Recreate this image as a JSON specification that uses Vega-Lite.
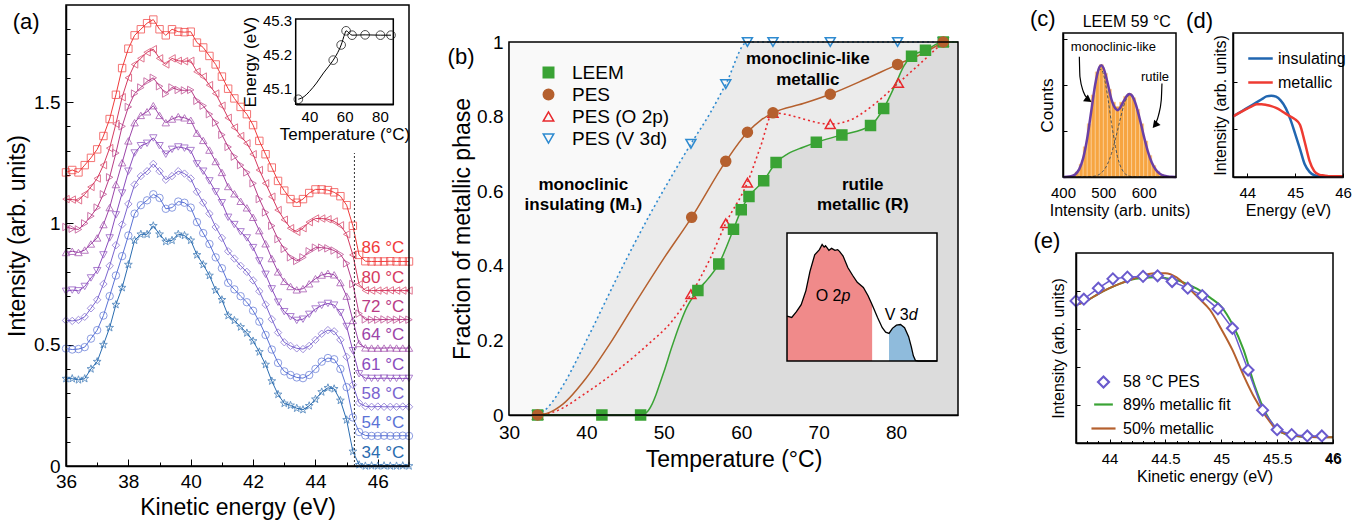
{
"$schema": "https://vega.github.io/schema/vega-lite/v6.json",
"width": 1372, "height": 531,
"autosize": {"type": "none"},
"padding": 0,
"config": {
 "font": "Liberation Sans",
 "view": {"stroke": null},
 "axis": {"grid": false, "domainColor": "black", "domainWidth": 1.5, "tickColor": "black", "tickWidth": 1, "labelColor": "black", "titleColor": "black", "titleFontWeight": "normal", "labelFont": "Liberation Sans", "titleFont": "Liberation Sans", "labelFlush": false, "labelOverlap": false, "labelBound": false},
 "legend": {"labelFont": "Liberation Sans", "labelColor": "black", "padding": 0},
 "text": {"font": "Liberation Sans"}
},
"datasets": {
 "spectra": [
{"E":36,"34 °C":0.36,"54 °C":0.484,"58 °C":0.6,"61 °C":0.72,"64 °C":0.88,"72 °C":0.985,"80 °C":1.1,"86 °C":1.21},
{"E":36.2,"34 °C":0.36,"54 °C":0.48,"58 °C":0.598,"61 °C":0.725,"64 °C":0.885,"72 °C":0.978,"80 °C":1.098,"86 °C":1.22},
{"E":36.4,"34 °C":0.355,"54 °C":0.482,"58 °C":0.602,"61 °C":0.722,"64 °C":0.88,"72 °C":0.975,"80 °C":1.095,"86 °C":1.21},
{"E":36.6,"34 °C":0.36,"54 °C":0.49,"58 °C":0.615,"61 °C":0.74,"64 °C":0.89,"72 °C":1.0,"80 °C":1.12,"86 °C":1.24},
{"E":36.8,"34 °C":0.4,"54 °C":0.525,"58 °C":0.65,"61 °C":0.775,"64 °C":0.915,"72 °C":1.03,"80 °C":1.15,"86 °C":1.27},
{"E":37,"34 °C":0.43,"54 °C":0.56,"58 °C":0.685,"61 °C":0.805,"64 °C":0.94,"72 °C":1.065,"80 °C":1.185,"86 °C":1.305},
{"E":37.2,"34 °C":0.5,"54 °C":0.62,"58 °C":0.75,"61 °C":0.87,"64 °C":0.995,"72 °C":1.12,"80 °C":1.24,"86 °C":1.36},
{"E":37.4,"34 °C":0.57,"54 °C":0.7,"58 °C":0.825,"61 °C":0.94,"64 °C":1.065,"72 °C":1.19,"80 °C":1.31,"86 °C":1.43},
{"E":37.6,"34 °C":0.665,"54 °C":0.785,"58 °C":0.91,"61 °C":1.035,"64 °C":1.16,"72 °C":1.29,"80 °C":1.41,"86 °C":1.53},
{"E":37.8,"34 °C":0.735,"54 °C":0.865,"58 °C":0.995,"61 °C":1.125,"64 °C":1.25,"72 °C":1.4,"80 °C":1.52,"86 °C":1.64},
{"E":38,"34 °C":0.83,"54 °C":0.95,"58 °C":1.08,"61 °C":1.215,"64 °C":1.34,"72 °C":1.48,"80 °C":1.6,"86 °C":1.72},
{"E":38.2,"34 °C":0.93,"54 °C":1.04,"58 °C":1.16,"61 °C":1.29,"64 °C":1.415,"72 °C":1.535,"80 °C":1.655,"86 °C":1.775},
{"E":38.4,"34 °C":0.955,"54 °C":1.075,"58 °C":1.195,"61 °C":1.32,"64 °C":1.445,"72 °C":1.56,"80 °C":1.68,"86 °C":1.8},
{"E":38.6,"34 °C":0.955,"54 °C":1.095,"58 °C":1.215,"61 °C":1.33,"64 °C":1.46,"72 °C":1.585,"80 °C":1.705,"86 °C":1.825},
{"E":38.8,"34 °C":0.99,"54 °C":1.12,"58 °C":1.245,"61 °C":1.352,"64 °C":1.485,"72 °C":1.6,"80 °C":1.718,"86 °C":1.84},
{"E":39,"34 °C":0.955,"54 °C":1.105,"58 °C":1.215,"61 °C":1.32,"64 °C":1.445,"72 °C":1.565,"80 °C":1.68,"86 °C":1.8},
{"E":39.2,"34 °C":0.925,"54 °C":1.06,"58 °C":1.18,"61 °C":1.285,"64 °C":1.415,"72 °C":1.535,"80 °C":1.655,"86 °C":1.775},
{"E":39.4,"34 °C":0.93,"54 °C":1.065,"58 °C":1.195,"61 °C":1.305,"64 °C":1.43,"72 °C":1.56,"80 °C":1.68,"86 °C":1.8},
{"E":39.6,"34 °C":0.955,"54 °C":1.09,"58 °C":1.215,"61 °C":1.315,"64 °C":1.44,"72 °C":1.55,"80 °C":1.67,"86 °C":1.79},
{"E":39.8,"34 °C":0.95,"54 °C":1.085,"58 °C":1.205,"61 °C":1.31,"64 °C":1.435,"72 °C":1.548,"80 °C":1.668,"86 °C":1.788},
{"E":40,"34 °C":0.93,"54 °C":1.065,"58 °C":1.185,"61 °C":1.3,"64 °C":1.425,"72 °C":1.55,"80 °C":1.67,"86 °C":1.79},
{"E":40.2,"34 °C":0.87,"54 °C":1.005,"58 °C":1.13,"61 °C":1.245,"64 °C":1.372,"72 °C":1.505,"80 °C":1.625,"86 °C":1.745},
{"E":40.4,"34 °C":0.83,"54 °C":0.96,"58 °C":1.085,"61 °C":1.215,"64 °C":1.342,"72 °C":1.485,"80 °C":1.605,"86 °C":1.725},
{"E":40.6,"34 °C":0.785,"54 °C":0.915,"58 °C":1.04,"61 °C":1.175,"64 °C":1.302,"72 °C":1.45,"80 °C":1.57,"86 °C":1.69},
{"E":40.8,"34 °C":0.725,"54 °C":0.86,"58 °C":0.985,"61 °C":1.13,"64 °C":1.255,"72 °C":1.415,"80 °C":1.535,"86 °C":1.655},
{"E":41,"34 °C":0.685,"54 °C":0.815,"58 °C":0.94,"61 °C":1.085,"64 °C":1.21,"72 °C":1.365,"80 °C":1.485,"86 °C":1.605},
{"E":41.2,"34 °C":0.62,"54 °C":0.755,"58 °C":0.885,"61 °C":1.025,"64 °C":1.152,"72 °C":1.315,"80 °C":1.435,"86 °C":1.555},
{"E":41.4,"34 °C":0.6,"54 °C":0.728,"58 °C":0.855,"61 °C":0.995,"64 °C":1.122,"72 °C":1.275,"80 °C":1.395,"86 °C":1.515},
{"E":41.6,"34 °C":0.573,"54 °C":0.7,"58 °C":0.825,"61 °C":0.965,"64 °C":1.091,"72 °C":1.24,"80 °C":1.36,"86 °C":1.48},
{"E":41.8,"34 °C":0.548,"54 °C":0.675,"58 °C":0.8,"61 °C":0.94,"64 °C":1.064,"72 °C":1.21,"80 °C":1.33,"86 °C":1.45},
{"E":42,"34 °C":0.515,"54 °C":0.64,"58 °C":0.765,"61 °C":0.9,"64 °C":1.025,"72 °C":1.165,"80 °C":1.285,"86 °C":1.405},
{"E":42.2,"34 °C":0.47,"54 °C":0.595,"58 °C":0.72,"61 °C":0.845,"64 °C":0.97,"72 °C":1.1,"80 °C":1.22,"86 °C":1.34},
{"E":42.4,"34 °C":0.418,"54 °C":0.54,"58 °C":0.665,"61 °C":0.79,"64 °C":0.916,"72 °C":1.045,"80 °C":1.165,"86 °C":1.285},
{"E":42.6,"34 °C":0.35,"54 °C":0.48,"58 °C":0.605,"61 °C":0.73,"64 °C":0.855,"72 °C":0.99,"80 °C":1.11,"86 °C":1.23},
{"E":42.8,"34 °C":0.295,"54 °C":0.425,"58 °C":0.55,"61 °C":0.675,"64 °C":0.8,"72 °C":0.935,"80 °C":1.055,"86 °C":1.175},
{"E":43,"34 °C":0.258,"54 °C":0.39,"58 °C":0.51,"61 °C":0.636,"64 °C":0.761,"72 °C":0.895,"80 °C":1.015,"86 °C":1.135},
{"E":43.2,"34 °C":0.25,"54 °C":0.375,"58 °C":0.495,"61 °C":0.615,"64 °C":0.74,"72 °C":0.86,"80 °C":0.98,"86 °C":1.1},
{"E":43.4,"34 °C":0.238,"54 °C":0.365,"58 °C":0.485,"61 °C":0.6,"64 °C":0.726,"72 °C":0.845,"80 °C":0.965,"86 °C":1.085},
{"E":43.6,"34 °C":0.232,"54 °C":0.362,"58 °C":0.482,"61 °C":0.605,"64 °C":0.731,"72 °C":0.86,"80 °C":0.98,"86 °C":1.1},
{"E":43.8,"34 °C":0.248,"54 °C":0.375,"58 °C":0.495,"61 °C":0.625,"64 °C":0.751,"72 °C":0.885,"80 °C":1.005,"86 °C":1.125},
{"E":44,"34 °C":0.275,"54 °C":0.4,"58 °C":0.52,"61 °C":0.647,"64 °C":0.772,"72 °C":0.9,"80 °C":1.02,"86 °C":1.14},
{"E":44.2,"34 °C":0.305,"54 °C":0.43,"58 °C":0.545,"61 °C":0.662,"64 °C":0.787,"72 °C":0.9,"80 °C":1.02,"86 °C":1.14},
{"E":44.4,"34 °C":0.322,"54 °C":0.445,"58 °C":0.56,"61 °C":0.67,"64 °C":0.794,"72 °C":0.897,"80 °C":1.017,"86 °C":1.137},
{"E":44.6,"34 °C":0.318,"54 °C":0.44,"58 °C":0.555,"61 °C":0.663,"64 °C":0.788,"72 °C":0.888,"80 °C":1.008,"86 °C":1.128},
{"E":44.8,"34 °C":0.27,"54 °C":0.4,"58 °C":0.52,"61 °C":0.632,"64 °C":0.756,"72 °C":0.872,"80 °C":0.992,"86 °C":1.112},
{"E":45,"34 °C":0.19,"54 °C":0.325,"58 °C":0.45,"61 °C":0.575,"64 °C":0.7,"72 °C":0.835,"80 °C":0.955,"86 °C":1.075},
{"E":45.2,"34 °C":0.06,"54 °C":0.2,"58 °C":0.335,"61 °C":0.475,"64 °C":0.6,"72 °C":0.75,"80 °C":0.87,"86 °C":0.99},
{"E":45.4,"34 °C":0.005,"54 °C":0.14,"58 °C":0.26,"61 °C":0.38,"64 °C":0.505,"72 °C":0.628,"80 °C":0.748,"86 °C":0.87},
{"E":45.6,"34 °C":0,"54 °C":0.126,"58 °C":0.246,"61 °C":0.362,"64 °C":0.487,"72 °C":0.604,"80 °C":0.724,"86 °C":0.844},
{"E":45.8,"34 °C":0.001,"54 °C":0.124,"58 °C":0.244,"61 °C":0.361,"64 °C":0.486,"72 °C":0.603,"80 °C":0.723,"86 °C":0.843},
{"E":46,"34 °C":0,"54 °C":0.124,"58 °C":0.245,"61 °C":0.361,"64 °C":0.486,"72 °C":0.603,"80 °C":0.723,"86 °C":0.843},
{"E":46.2,"34 °C":0.001,"54 °C":0.125,"58 °C":0.244,"61 °C":0.362,"64 °C":0.486,"72 °C":0.604,"80 °C":0.723,"86 °C":0.843},
{"E":46.4,"34 °C":0,"54 °C":0.124,"58 °C":0.244,"61 °C":0.361,"64 °C":0.487,"72 °C":0.603,"80 °C":0.724,"86 °C":0.844},
{"E":46.6,"34 °C":0,"54 °C":0.124,"58 °C":0.244,"61 °C":0.361,"64 °C":0.486,"72 °C":0.603,"80 °C":0.723,"86 °C":0.843},
{"E":46.8,"34 °C":0.001,"54 °C":0.125,"58 °C":0.245,"61 °C":0.361,"64 °C":0.486,"72 °C":0.604,"80 °C":0.723,"86 °C":0.843},
{"E":47,"34 °C":0,"54 °C":0.124,"58 °C":0.244,"61 °C":0.361,"64 °C":0.486,"72 °C":0.603,"80 °C":0.723,"86 °C":0.843}
 ],
 "aInset": [{"t":33.7,"e":45.067},{"t":53.5,"e":45.183},{"t":58,"e":45.228},{"t":60.8,"e":45.27},{"t":64.2,"e":45.257},{"t":71.6,"e":45.258},{"t":80.3,"e":45.257},{"t":86.3,"e":45.257}],
 "aInsetCurve": [{"t":33.7,"e":45.067},{"t":37,"e":45.075},{"t":40,"e":45.09},{"t":44,"e":45.115},{"t":48,"e":45.145},{"t":51,"e":45.165},{"t":53.5,"e":45.183},{"t":56,"e":45.205},{"t":58,"e":45.228},{"t":60,"e":45.26},{"t":60.8,"e":45.27},{"t":64.2,"e":45.257},{"t":71.6,"e":45.258},{"t":80.3,"e":45.257},{"t":86.3,"e":45.257}],
 "bCurves": [
{"s":"LEEM","t":33.7,"f":0},{"s":"LEEM","t":42,"f":0},{"s":"LEEM","t":47,"f":0},{"s":"LEEM","t":47.5,"f":0.003},{"s":"LEEM","t":48,"f":0.012},{"s":"LEEM","t":48.5,"f":0.03},{"s":"LEEM","t":49,"f":0.055},{"s":"LEEM","t":49.5,"f":0.085},{"s":"LEEM","t":50,"f":0.115},{"s":"LEEM","t":51,"f":0.18},{"s":"LEEM","t":52,"f":0.24},{"s":"LEEM","t":53,"f":0.29},{"s":"LEEM","t":54.4,"f":0.334},{"s":"LEEM","t":55.7,"f":0.365},{"s":"LEEM","t":57.1,"f":0.405},{"s":"LEEM","t":59,"f":0.498},{"s":"LEEM","t":60,"f":0.55},{"s":"LEEM","t":61,"f":0.586},{"s":"LEEM","t":62.9,"f":0.628},{"s":"LEEM","t":64.5,"f":0.677},{"s":"LEEM","t":66,"f":0.7},{"s":"LEEM","t":68,"f":0.718},{"s":"LEEM","t":69.7,"f":0.731},{"s":"LEEM","t":73,"f":0.751},{"s":"LEEM","t":76.7,"f":0.776},{"s":"LEEM","t":78.4,"f":0.822},{"s":"LEEM","t":80,"f":0.89},{"s":"LEEM","t":81,"f":0.935},{"s":"LEEM","t":82,"f":0.962},{"s":"LEEM","t":83.8,"f":0.978},{"s":"LEEM","t":86.1,"f":1},{"s":"LEEM","t":88,"f":1},
{"s":"PES","t":33.7,"f":0},{"s":"PES","t":35,"f":0.005},{"s":"PES","t":37,"f":0.03},{"s":"PES","t":40,"f":0.1},{"s":"PES","t":43,"f":0.19},{"s":"PES","t":46,"f":0.29},{"s":"PES","t":50,"f":0.42},{"s":"PES","t":53.6,"f":0.53},{"s":"PES","t":58,"f":0.68},{"s":"PES","t":60.8,"f":0.758},{"s":"PES","t":62.5,"f":0.79},{"s":"PES","t":64.1,"f":0.81},{"s":"PES","t":68,"f":0.835},{"s":"PES","t":71.5,"f":0.86},{"s":"PES","t":76,"f":0.9},{"s":"PES","t":80.2,"f":0.94},{"s":"PES","t":83,"f":0.965},{"s":"PES","t":86.1,"f":1},
{"s":"PES (O 2p)","t":33.7,"f":0},{"s":"PES (O 2p)","t":36,"f":0.01},{"s":"PES (O 2p)","t":40,"f":0.06},{"s":"PES (O 2p)","t":44,"f":0.12},{"s":"PES (O 2p)","t":48,"f":0.19},{"s":"PES (O 2p)","t":51,"f":0.25},{"s":"PES (O 2p)","t":53.5,"f":0.324},{"s":"PES (O 2p)","t":56,"f":0.42},{"s":"PES (O 2p)","t":58,"f":0.514},{"s":"PES (O 2p)","t":60.8,"f":0.623},{"s":"PES (O 2p)","t":62.5,"f":0.72},{"s":"PES (O 2p)","t":64.1,"f":0.81},{"s":"PES (O 2p)","t":71.5,"f":0.78},{"s":"PES (O 2p)","t":74,"f":0.79},{"s":"PES (O 2p)","t":77,"f":0.83},{"s":"PES (O 2p)","t":80.3,"f":0.89},{"s":"PES (O 2p)","t":83,"f":0.94},{"s":"PES (O 2p)","t":86.1,"f":1},
{"s":"PES (V 3d)","t":33.7,"f":0},{"s":"PES (V 3d)","t":35,"f":0.02},{"s":"PES (V 3d)","t":37,"f":0.08},{"s":"PES (V 3d)","t":40,"f":0.2},{"s":"PES (V 3d)","t":44,"f":0.37},{"s":"PES (V 3d)","t":48,"f":0.53},{"s":"PES (V 3d)","t":51,"f":0.64},{"s":"PES (V 3d)","t":53.5,"f":0.727},{"s":"PES (V 3d)","t":56,"f":0.81},{"s":"PES (V 3d)","t":58,"f":0.887},{"s":"PES (V 3d)","t":60.8,"f":1},{"s":"PES (V 3d)","t":64.1,"f":1},{"s":"PES (V 3d)","t":71.5,"f":1},{"s":"PES (V 3d)","t":80.2,"f":1},{"s":"PES (V 3d)","t":86.1,"f":1},{"s":"PES (V 3d)","t":88,"f":1}
 ],
 "bMarkers": [
{"s":"PES (V 3d)","t":33.7,"f":0},{"s":"PES (V 3d)","t":53.5,"f":0.727},{"s":"PES (V 3d)","t":58,"f":0.887},{"s":"PES (V 3d)","t":60.8,"f":1},{"s":"PES (V 3d)","t":64.1,"f":1},{"s":"PES (V 3d)","t":71.5,"f":1},{"s":"PES (V 3d)","t":80.2,"f":1},{"s":"PES (V 3d)","t":86.1,"f":1},
{"s":"PES (O 2p)","t":33.7,"f":0},{"s":"PES (O 2p)","t":53.5,"f":0.324},{"s":"PES (O 2p)","t":58,"f":0.514},{"s":"PES (O 2p)","t":60.8,"f":0.623},{"s":"PES (O 2p)","t":64.1,"f":0.81},{"s":"PES (O 2p)","t":71.5,"f":0.78},{"s":"PES (O 2p)","t":80.3,"f":0.89},{"s":"PES (O 2p)","t":86.1,"f":1},
{"s":"LEEM","t":33.7,"f":0},{"s":"LEEM","t":42,"f":0},{"s":"LEEM","t":47,"f":0},{"s":"LEEM","t":54.4,"f":0.334},{"s":"LEEM","t":57.1,"f":0.405},{"s":"LEEM","t":59,"f":0.498},{"s":"LEEM","t":60,"f":0.55},{"s":"LEEM","t":61,"f":0.586},{"s":"LEEM","t":62.9,"f":0.628},{"s":"LEEM","t":64.5,"f":0.677},{"s":"LEEM","t":69.7,"f":0.731},{"s":"LEEM","t":73,"f":0.751},{"s":"LEEM","t":76.7,"f":0.776},{"s":"LEEM","t":78.4,"f":0.822},{"s":"LEEM","t":82,"f":0.962},{"s":"LEEM","t":83.8,"f":0.978},{"s":"LEEM","t":86.1,"f":1},
{"s":"PES","t":33.7,"f":0},{"s":"PES","t":53.6,"f":0.53},{"s":"PES","t":58,"f":0.68},{"s":"PES","t":60.8,"f":0.758},{"s":"PES","t":64.1,"f":0.81},{"s":"PES","t":71.5,"f":0.86},{"s":"PES","t":80.2,"f":0.94},{"s":"PES","t":86.1,"f":1}
 ],
 "bInset": [{"e":36,"v":0.35},{"e":36.35,"v":0.34},{"e":36.7,"v":0.385},{"e":37.05,"v":0.44},{"e":37.4,"v":0.55},{"e":37.7,"v":0.7},{"e":38.05,"v":0.83},{"e":38.4,"v":0.87},{"e":38.6,"v":0.91},{"e":38.75,"v":0.89},{"e":38.85,"v":0.9},{"e":39,"v":0.88},{"e":39.1,"v":0.865},{"e":39.3,"v":0.88},{"e":39.55,"v":0.865},{"e":39.75,"v":0.87},{"e":39.9,"v":0.855},{"e":40.15,"v":0.82},{"e":40.5,"v":0.73},{"e":40.85,"v":0.67},{"e":41.2,"v":0.615},{"e":41.65,"v":0.575},{"e":42,"v":0.51},{"e":42.3,"v":0.44},{"e":42.7,"v":0.34},{"e":43.05,"v":0.26},{"e":43.3,"v":0.225},{"e":43.55,"v":0.215},{"e":43.8,"v":0.255},{"e":44.1,"v":0.28},{"e":44.4,"v":0.285},{"e":44.7,"v":0.26},{"e":45,"v":0.19},{"e":45.2,"v":0.11},{"e":45.35,"v":0.04},{"e":45.5,"v":0.005},{"e":45.7,"v":0},{"e":46.2,"v":0},{"e":47.1,"v":0}],
 "cBars": [{"lo":400,"hi":410,"n":0.003},{"lo":410,"hi":420,"n":0.006},{"lo":420,"hi":430,"n":0.012},{"lo":430,"hi":440,"n":0.035},{"lo":440,"hi":450,"n":0.09},{"lo":450,"hi":460,"n":0.21},{"lo":460,"hi":470,"n":0.37},{"lo":470,"hi":480,"n":0.57},{"lo":480,"hi":490,"n":0.73},{"lo":490,"hi":500,"n":0.78},{"lo":500,"hi":510,"n":0.72},{"lo":510,"hi":520,"n":0.61},{"lo":520,"hi":530,"n":0.52},{"lo":530,"hi":540,"n":0.49},{"lo":540,"hi":550,"n":0.52},{"lo":550,"hi":560,"n":0.56},{"lo":560,"hi":570,"n":0.58},{"lo":570,"hi":580,"n":0.55},{"lo":580,"hi":590,"n":0.47},{"lo":590,"hi":600,"n":0.37},{"lo":600,"hi":610,"n":0.25},{"lo":610,"hi":620,"n":0.15},{"lo":620,"hi":630,"n":0.08},{"lo":630,"hi":640,"n":0.04},{"lo":640,"hi":650,"n":0.018},{"lo":650,"hi":660,"n":0.008},{"lo":660,"hi":670,"n":0.004},{"lo":670,"hi":680,"n":0.002}],
 "cFit": [{"x":400,"g1":0.0002,"g2":0,"fit":0.0002},{"x":410,"g1":0.0011,"g2":0,"fit":0.0011},{"x":420,"g1":0.0049,"g2":0,"fit":0.0049},{"x":430,"g1":0.0176,"g2":0,"fit":0.0176},{"x":440,"g1":0.0527,"g2":0.0001,"fit":0.0528},{"x":450,"g1":0.1306,"g2":0.0002,"fit":0.1308},{"x":460,"g1":0.268,"g2":0.0007,"fit":0.269},{"x":470,"g1":0.455,"g2":0.0024,"fit":0.457},{"x":480,"g1":0.639,"g2":0.007,"fit":0.646},{"x":490,"g1":0.744,"g2":0.018,"fit":0.762},{"x":495,"g1":0.747,"g2":0.0285,"fit":0.776},{"x":500,"g1":0.716,"g2":0.043,"fit":0.759},{"x":510,"g1":0.571,"g2":0.088,"fit":0.659},{"x":520,"g1":0.377,"g2":0.162,"fit":0.539},{"x":530,"g1":0.211,"g2":0.264,"fit":0.475},{"x":535,"g1":0.142,"g2":0.322,"fit":0.464},{"x":540,"g1":0.093,"g2":0.381,"fit":0.474},{"x":550,"g1":0.035,"g2":0.49,"fit":0.525},{"x":560,"g1":0.0108,"g2":0.558,"fit":0.569},{"x":565,"g1":0.0056,"g2":0.57,"fit":0.576},{"x":570,"g1":0.0028,"g2":0.565,"fit":0.568},{"x":580,"g1":0.0006,"g2":0.507,"fit":0.508},{"x":590,"g1":0.0001,"g2":0.405,"fit":0.405},{"x":600,"g1":0,"g2":0.287,"fit":0.287},{"x":610,"g1":0,"g2":0.18,"fit":0.18},{"x":620,"g1":0,"g2":0.1007,"fit":0.1007},{"x":630,"g1":0,"g2":0.05,"fit":0.05},{"x":640,"g1":0,"g2":0.022,"fit":0.022},{"x":650,"g1":0,"g2":0.0086,"fit":0.0086},{"x":660,"g1":0,"g2":0.003,"fit":0.003},{"x":670,"g1":0,"g2":0.0009,"fit":0.0009},{"x":680,"g1":0,"g2":0.0003,"fit":0.0003}],
 "cArrows": [{"a":1,"x":440.5,"y":0.835},{"a":1,"x":442,"y":0.696},{"a":1,"x":450.5,"y":0.592},{"a":1,"x":460,"y":0.548},{"a":2,"x":645.2,"y":0.65},{"a":2,"x":643.5,"y":0.535},{"a":2,"x":636.8,"y":0.43},{"a":2,"x":631,"y":0.38}],
 "dLines": [
{"s":"insulating","e":43.7,"v":0.42},{"s":"insulating","e":43.8,"v":0.44},{"s":"insulating","e":43.9,"v":0.46},{"s":"insulating","e":44,"v":0.48},{"s":"insulating","e":44.1,"v":0.5},{"s":"insulating","e":44.2,"v":0.52},{"s":"insulating","e":44.3,"v":0.54},{"s":"insulating","e":44.4,"v":0.56},{"s":"insulating","e":44.5,"v":0.565},{"s":"insulating","e":44.6,"v":0.558},{"s":"insulating","e":44.7,"v":0.53},{"s":"insulating","e":44.8,"v":0.48},{"s":"insulating","e":44.9,"v":0.4},{"s":"insulating","e":45,"v":0.3},{"s":"insulating","e":45.1,"v":0.196},{"s":"insulating","e":45.2,"v":0.088},{"s":"insulating","e":45.3,"v":0.036},{"s":"insulating","e":45.4,"v":0.012},{"s":"insulating","e":45.5,"v":0.005},{"s":"insulating","e":45.6,"v":0.003},{"s":"insulating","e":45.8,"v":0.003},{"s":"insulating","e":46,"v":0.003},
{"s":"metallic","e":43.7,"v":0.42},{"s":"metallic","e":43.8,"v":0.44},{"s":"metallic","e":43.9,"v":0.458},{"s":"metallic","e":44,"v":0.475},{"s":"metallic","e":44.1,"v":0.492},{"s":"metallic","e":44.2,"v":0.505},{"s":"metallic","e":44.3,"v":0.505},{"s":"metallic","e":44.4,"v":0.5},{"s":"metallic","e":44.5,"v":0.492},{"s":"metallic","e":44.6,"v":0.48},{"s":"metallic","e":44.7,"v":0.462},{"s":"metallic","e":44.8,"v":0.44},{"s":"metallic","e":44.9,"v":0.42},{"s":"metallic","e":45,"v":0.4},{"s":"metallic","e":45.1,"v":0.363},{"s":"metallic","e":45.2,"v":0.243},{"s":"metallic","e":45.3,"v":0.112},{"s":"metallic","e":45.4,"v":0.04},{"s":"metallic","e":45.5,"v":0.017},{"s":"metallic","e":45.6,"v":0.01},{"s":"metallic","e":45.7,"v":0.005},{"s":"metallic","e":46,"v":0.005}
 ],
 "eLines": [
{"s":"89% metallic fit","e":43.7,"v":0.727},{"s":"89% metallic fit","e":43.8,"v":0.75},{"s":"89% metallic fit","e":43.9,"v":0.785},{"s":"89% metallic fit","e":44,"v":0.815},{"s":"89% metallic fit","e":44.1,"v":0.84},{"s":"89% metallic fit","e":44.2,"v":0.86},{"s":"89% metallic fit","e":44.3,"v":0.868},{"s":"89% metallic fit","e":44.4,"v":0.872},{"s":"89% metallic fit","e":44.5,"v":0.868},{"s":"89% metallic fit","e":44.6,"v":0.858},{"s":"89% metallic fit","e":44.7,"v":0.835},{"s":"89% metallic fit","e":44.8,"v":0.806},{"s":"89% metallic fit","e":44.9,"v":0.765},{"s":"89% metallic fit","e":45,"v":0.718},{"s":"89% metallic fit","e":45.1,"v":0.625},{"s":"89% metallic fit","e":45.2,"v":0.49},{"s":"89% metallic fit","e":45.3,"v":0.3},{"s":"89% metallic fit","e":45.4,"v":0.155},{"s":"89% metallic fit","e":45.5,"v":0.072},{"s":"89% metallic fit","e":45.6,"v":0.042},{"s":"89% metallic fit","e":45.7,"v":0.034},{"s":"89% metallic fit","e":45.8,"v":0.031},{"s":"89% metallic fit","e":46,"v":0.03},
{"s":"50% metallic","e":43.7,"v":0.727},{"s":"50% metallic","e":43.8,"v":0.75},{"s":"50% metallic","e":43.9,"v":0.785},{"s":"50% metallic","e":44,"v":0.815},{"s":"50% metallic","e":44.1,"v":0.84},{"s":"50% metallic","e":44.2,"v":0.862},{"s":"50% metallic","e":44.3,"v":0.882},{"s":"50% metallic","e":44.4,"v":0.894},{"s":"50% metallic","e":44.5,"v":0.894},{"s":"50% metallic","e":44.6,"v":0.872},{"s":"50% metallic","e":44.7,"v":0.82},{"s":"50% metallic","e":44.8,"v":0.762},{"s":"50% metallic","e":44.9,"v":0.7},{"s":"50% metallic","e":45,"v":0.6},{"s":"50% metallic","e":45.1,"v":0.49},{"s":"50% metallic","e":45.2,"v":0.355},{"s":"50% metallic","e":45.3,"v":0.235},{"s":"50% metallic","e":45.4,"v":0.14},{"s":"50% metallic","e":45.5,"v":0.068},{"s":"50% metallic","e":45.6,"v":0.045},{"s":"50% metallic","e":45.7,"v":0.036},{"s":"50% metallic","e":45.8,"v":0.032},{"s":"50% metallic","e":46,"v":0.03}
 ],
 "ePoints": [{"s":"58 °C PES","e":43.7,"v":0.748},{"s":"58 °C PES","e":43.77,"v":0.757},{"s":"58 °C PES","e":43.9,"v":0.815},{"s":"58 °C PES","e":44.03,"v":0.864},{"s":"58 °C PES","e":44.16,"v":0.873},{"s":"58 °C PES","e":44.3,"v":0.877},{"s":"58 °C PES","e":44.43,"v":0.88},{"s":"58 °C PES","e":44.56,"v":0.85},{"s":"58 °C PES","e":44.7,"v":0.815},{"s":"58 °C PES","e":44.83,"v":0.776},{"s":"58 °C PES","e":44.97,"v":0.706},{"s":"58 °C PES","e":45.1,"v":0.604},{"s":"58 °C PES","e":45.24,"v":0.384},{"s":"58 °C PES","e":45.37,"v":0.173},{"s":"58 °C PES","e":45.5,"v":0.07},{"s":"58 °C PES","e":45.63,"v":0.044},{"s":"58 °C PES","e":45.77,"v":0.037},{"s":"58 °C PES","e":45.9,"v":0.037}]
},
"layer": [
 {"layer": [
  {"data": {"name": "spectra"},
   "transform": [{"fold": ["34 °C","54 °C","58 °C","61 °C","64 °C","72 °C","80 °C","86 °C"], "as": ["T","I"]}],
   "layer": [
    {"mark": {"type": "line", "strokeWidth": 1},
     "encoding": {
      "x": {"field": "E", "type": "quantitative", "scale": {"domain": [36, 47], "range": [66, 409], "nice": false},
            "axis": {"orient": "bottom", "offset": -65, "values": [36,38,40,42,44,46], "format": "d", "title": "Kinetic energy (eV)", "titleFontSize": 23, "labelFontSize": 19, "tickSize": -7, "labelPadding": 13, "titlePadding": 5}},
      "y": {"field": "I", "type": "quantitative", "scale": {"domain": [0, 1.9], "range": [466, 5], "nice": false},
            "axis": {"orient": "left", "offset": -66, "values": [0, 0.5, 1, 1.5], "format": "~g", "title": "Intensity (arb. units)", "titleFontSize": 23, "labelFontSize": 19, "tickSize": -7, "labelPadding": 13, "titlePadding": 4}},
      "color": {"field": "T", "type": "nominal", "scale": {"domain": ["34 °C","54 °C","58 °C","61 °C","64 °C","72 °C","80 °C","86 °C"], "range": ["#2a6cb0","#5b73d6","#7a64cf","#8a4cbd","#9c44a8","#b83c86","#d63a60","#f03a3a"]}, "legend": null}
     }},
    {"mark": {"type": "point", "filled": false, "size": 55, "strokeWidth": 1},
     "encoding": {
      "x": {"field": "E", "type": "quantitative"},
      "y": {"field": "I", "type": "quantitative"},
      "color": {"field": "T", "type": "nominal", "legend": null},
      "shape": {"field": "T", "type": "nominal", "scale": {"domain": ["34 °C","54 °C","58 °C","61 °C","64 °C","72 °C","80 °C","86 °C"], "range": ["M0,-1.1L0.26,-0.36L1.05,-0.34L0.42,0.13L0.65,0.9L0,0.44L-0.65,0.9L-0.42,0.13L-1.05,-0.34L-0.26,-0.36Z","circle","diamond","triangle-down","triangle-up","triangle-right","triangle-left","square"]}, "legend": null}
     }},
    {"transform": [{"filter": "datum.E === 47"}],
     "mark": {"type": "text", "align": "right", "baseline": "middle", "dy": -13, "fontSize": 17},
     "encoding": {
      "x": {"datum": 46.85},
      "y": {"field": "I", "type": "quantitative"},
      "text": {"field": "T"},
      "color": {"field": "T", "type": "nominal", "legend": null}
     }}
   ]},
  {"data": {"values": [{}]}, "mark": {"type": "rule", "strokeDash": [2, 2], "color": "#333333", "strokeWidth": 1},
   "encoding": {"x": {"datum": 45.25}, "y": {"datum": 0}, "y2": {"datum": 1.29}}},
  {"data": {"values": [{}]}, "mark": {"type": "text", "fontSize": 22, "align": "center", "baseline": "middle"},
   "encoding": {"x": {"datum": 34.72}, "y": {"datum": 1.83}, "text": {"value": "(a)"}}},
  {"data": {"values": [{}]}, "mark": {"type": "rect", "fill": "transparent", "stroke": "black", "strokeWidth": 1.5},
   "encoding": {"x": {"datum": 36}, "x2": {"datum": 47}, "y": {"datum": 0}, "y2": {"datum": 1.9}}}
 ]},
 {"data": {"values": [{}]}, "mark": {"type": "point", "opacity": 0},
  "encoding": {
   "x": {"datum": 36, "type": "quantitative", "scale": {"domain": [36, 47], "range": [66, 409], "nice": false},
         "axis": {"orient": "bottom", "offset": -65, "values": [37, 39, 41, 43, 45], "labels": false, "domain": false, "title": null, "tickSize": -4}},
   "y": {"datum": 0, "type": "quantitative", "scale": {"domain": [0, 1.9], "range": [466, 5], "nice": false},
         "axis": {"orient": "left", "offset": -66, "values": [0.1,0.2,0.3,0.4,0.6,0.7,0.8,0.9,1.1,1.2,1.3,1.4,1.6,1.7,1.8], "labels": false, "domain": false, "title": null, "tickSize": -4}}
  }},
 {"layer": [
  {"data": {"values": [{}]}, "mark": {"type": "rect", "fill": "white", "stroke": "black", "strokeWidth": 1.5},
   "encoding": {
    "x": {"datum": 32.2, "type": "quantitative", "scale": {"domain": [32.2, 87.6], "range": [295.7, 393.3], "nice": false},
          "axis": {"orient": "bottom", "offset": -426.7, "values": [40, 60, 80], "title": "Temperature (°C)", "titleFontSize": 17, "labelFontSize": 15, "tickSize": -4, "labelPadding": 9, "titlePadding": 2}},
    "x2": {"datum": 87.6},
    "y": {"datum": 45.052, "type": "quantitative", "scale": {"domain": [45.052, 45.305], "range": [104.3, 19], "nice": false},
          "axis": {"orient": "left", "offset": -295.7, "values": [45.1, 45.2, 45.3], "format": "~g", "title": "Energy (eV)", "titleFontSize": 17, "labelFontSize": 15, "tickSize": -4, "labelPadding": 8, "titlePadding": 3}},
    "y2": {"datum": 45.305}
   }},
  {"data": {"name": "aInsetCurve"}, "mark": {"type": "line", "color": "black", "strokeWidth": 1, "interpolate": "monotone"},
   "encoding": {"x": {"field": "t", "type": "quantitative"}, "y": {"field": "e", "type": "quantitative"}}},
  {"data": {"name": "aInset"}, "mark": {"type": "point", "filled": false, "color": "black", "size": 75, "strokeWidth": 1},
   "encoding": {"x": {"field": "t", "type": "quantitative"}, "y": {"field": "e", "type": "quantitative"}}}
 ]},
 {"layer": [
  {"data": {"values": [{}]}, "mark": {"type": "rect", "fill": "#f9f9f9"},
   "encoding": {
    "x": {"datum": 30, "type": "quantitative", "scale": {"domain": [30, 88], "range": [509, 958], "nice": false},
          "axis": {"orient": "bottom", "offset": -116, "values": [30, 40, 50, 60, 70, 80], "title": "Temperature (°C)", "titleFontSize": 23, "labelFontSize": 19, "tickSize": -7, "labelPadding": 15, "titlePadding": 6}},
    "x2": {"datum": 88},
    "y": {"datum": 0, "type": "quantitative", "scale": {"domain": [0, 1], "range": [415, 42], "nice": false},
          "axis": {"orient": "left", "offset": -509, "values": [0, 0.2, 0.4, 0.6, 0.8, 1], "format": "~g", "title": "Fraction of metallic phase", "titleFontSize": 23, "labelFontSize": 19, "tickSize": -7, "labelPadding": 13, "titlePadding": 2}},
    "y2": {"datum": 1}
   }},
  {"data": {"name": "bCurves"}, "transform": [{"filter": "datum.s === 'PES (V 3d)'"}],
   "mark": {"type": "area", "interpolate": "monotone", "color": "#ebebeb"},
   "encoding": {"x": {"field": "t", "type": "quantitative"}, "y": {"field": "f", "type": "quantitative"}}},
  {"data": {"name": "bCurves"}, "transform": [{"filter": "datum.s === 'LEEM'"}],
   "mark": {"type": "area", "interpolate": "monotone", "color": "#dcdcdc"},
   "encoding": {"x": {"field": "t", "type": "quantitative"}, "y": {"field": "f", "type": "quantitative"}}},
  {"data": {"name": "bCurves"}, "transform": [{"filter": "datum.s === 'PES (V 3d)'"}],
   "mark": {"type": "line", "interpolate": "monotone", "color": "#2d8ad0", "strokeWidth": 1.6, "strokeDash": [2, 3]},
   "encoding": {"x": {"field": "t", "type": "quantitative"}, "y": {"field": "f", "type": "quantitative"}}},
  {"data": {"name": "bCurves"}, "transform": [{"filter": "datum.s === 'PES (O 2p)'"}],
   "mark": {"type": "line", "interpolate": "monotone", "color": "#e8282d", "strokeWidth": 1.6, "strokeDash": [2, 3]},
   "encoding": {"x": {"field": "t", "type": "quantitative"}, "y": {"field": "f", "type": "quantitative"}}},
  {"data": {"name": "bCurves"}, "transform": [{"filter": "datum.s === 'LEEM'"}],
   "mark": {"type": "line", "interpolate": "monotone", "color": "#3aa335", "strokeWidth": 1.5},
   "encoding": {"x": {"field": "t", "type": "quantitative"}, "y": {"field": "f", "type": "quantitative"}}},
  {"data": {"name": "bCurves"}, "transform": [{"filter": "datum.s === 'PES'"}],
   "mark": {"type": "line", "interpolate": "monotone", "color": "#b5602e", "strokeWidth": 1.5},
   "encoding": {"x": {"field": "t", "type": "quantitative"}, "y": {"field": "f", "type": "quantitative"}}},
  {"data": {"name": "bMarkers"},
   "mark": {"type": "point", "filled": true, "strokeWidth": 1.5, "opacity": 1, "size": 100},
   "encoding": {
    "x": {"field": "t", "type": "quantitative"},
    "y": {"field": "f", "type": "quantitative"},
    "shape": {"field": "s", "type": "nominal", "scale": {"domain": ["LEEM","PES","PES (O 2p)","PES (V 3d)"], "range": ["square","circle","triangle-up","triangle-down"]},
              "legend": {"orient": "none", "legendX": 539, "legendY": 63, "title": null, "labelFontSize": 19, "symbolSize": 110, "symbolStrokeWidth": 1.5, "labelOffset": 14, "rowPadding": 2}},
    "fill": {"field": "s", "type": "nominal", "scale": {"domain": ["LEEM","PES","PES (O 2p)","PES (V 3d)"], "range": ["#3aa335","#b5602e","transparent","transparent"]},
              "legend": {"orient": "none", "legendX": 539, "legendY": 63, "title": null, "labelFontSize": 19, "symbolSize": 110, "symbolStrokeWidth": 1.5, "labelOffset": 14, "rowPadding": 2}},
    "stroke": {"field": "s", "type": "nominal", "scale": {"domain": ["LEEM","PES","PES (O 2p)","PES (V 3d)"], "range": ["#3aa335","#b5602e","#e8282d","#2d8ad0"]},
              "legend": {"orient": "none", "legendX": 539, "legendY": 63, "title": null, "labelFontSize": 19, "symbolSize": 110, "symbolStrokeWidth": 1.5, "labelOffset": 14, "rowPadding": 2}}
   }},
  {"data": {"values": [{}]}, "mark": {"type": "text", "fontSize": 17, "fontWeight": "bold", "align": "center", "baseline": "middle"},
   "encoding": {"x": {"datum": 68.6}, "y": {"datum": 0.954}, "text": {"value": "monoclinic-like"}}},
  {"data": {"values": [{}]}, "mark": {"type": "text", "fontSize": 17, "fontWeight": "bold", "align": "center", "baseline": "middle"},
   "encoding": {"x": {"datum": 68.6}, "y": {"datum": 0.898}, "text": {"value": "metallic"}}},
  {"data": {"values": [{}]}, "mark": {"type": "text", "fontSize": 17, "fontWeight": "bold", "align": "center", "baseline": "middle"},
   "encoding": {"x": {"datum": 39.6}, "y": {"datum": 0.617}, "text": {"value": "monoclinic"}}},
  {"data": {"values": [{}]}, "mark": {"type": "text", "fontSize": 17, "fontWeight": "bold", "align": "center", "baseline": "middle"},
   "encoding": {"x": {"datum": 39.6}, "y": {"datum": 0.563}, "text": {"value": "insulating (M₁)"}}},
  {"data": {"values": [{}]}, "mark": {"type": "text", "fontSize": 17, "fontWeight": "bold", "align": "center", "baseline": "middle"},
   "encoding": {"x": {"datum": 75.7}, "y": {"datum": 0.617}, "text": {"value": "rutile"}}},
  {"data": {"values": [{}]}, "mark": {"type": "text", "fontSize": 17, "fontWeight": "bold", "align": "center", "baseline": "middle"},
   "encoding": {"x": {"datum": 75.7}, "y": {"datum": 0.563}, "text": {"value": "metallic (R)"}}},
  {"data": {"values": [{}]}, "mark": {"type": "text", "fontSize": 22, "align": "center", "baseline": "middle"},
   "encoding": {"x": {"datum": 23.8}, "y": {"datum": 0.96}, "text": {"value": "(b)"}}},
  {"data": {"values": [{}]}, "mark": {"type": "rect", "fill": "transparent", "stroke": "black", "strokeWidth": 1.5},
   "encoding": {"x": {"datum": 30}, "x2": {"datum": 88}, "y": {"datum": 0}, "y2": {"datum": 1}}}
 ]},
 {"data": {"values": [{}]}, "mark": {"type": "point", "opacity": 0},
  "encoding": {
   "x": {"datum": 30, "type": "quantitative", "scale": {"domain": [30, 88], "range": [509, 958], "nice": false},
         "axis": {"orient": "bottom", "offset": -116, "values": [32,34,36,38,42,44,46,48,52,54,56,58,62,64,66,68,72,74,76,78,82,84,86], "labels": false, "domain": false, "title": null, "tickSize": -4}},
   "y": {"datum": 0, "type": "quantitative", "scale": {"domain": [0, 1], "range": [415, 42], "nice": false},
         "axis": {"orient": "left", "offset": -509, "values": [0.1, 0.3, 0.5, 0.7, 0.9], "labels": false, "domain": false, "title": null, "tickSize": -4}}
  }},
 {"layer": [
  {"data": {"values": [{}]}, "mark": {"type": "rect", "fill": "white"},
   "encoding": {
    "x": {"datum": 36, "type": "quantitative", "scale": {"domain": [36, 47.1], "range": [787, 937], "nice": false},
          "axis": {"orient": "bottom", "offset": -170, "values": [38, 40, 42, 44, 46], "title": "Energy (eV)", "titleFontSize": 18, "labelFontSize": 16, "tickSize": -4, "labelPadding": 10, "titlePadding": 2}},
    "x2": {"datum": 47.1},
    "y": {"datum": 0, "type": "quantitative", "scale": {"domain": [0, 1], "range": [361, 233], "nice": false},
          "axis": {"orient": "left", "offset": -787, "values": [0.2, 0.4, 0.6, 0.8], "labels": false, "title": null, "tickSize": -4}},
    "y2": {"datum": 1}
   }},
  {"data": {"name": "bInset"}, "transform": [{"filter": "datum.e <= 42.3"}],
   "mark": {"type": "area", "color": "#f08a8a"},
   "encoding": {"x": {"field": "e", "type": "quantitative"}, "y": {"field": "v", "type": "quantitative"}}},
  {"data": {"name": "bInset"}, "transform": [{"filter": "datum.e >= 43.55 && datum.e <= 45.5"}],
   "mark": {"type": "area", "color": "#8fbbdc"},
   "encoding": {"x": {"field": "e", "type": "quantitative"}, "y": {"field": "v", "type": "quantitative"}}},
  {"data": {"name": "bInset"}, "mark": {"type": "line", "color": "black", "strokeWidth": 1.3},
   "encoding": {"x": {"field": "e", "type": "quantitative"}, "y": {"field": "v", "type": "quantitative"}}},
  {"data": {"values": [{}]}, "mark": {"type": "text", "fontSize": 16, "align": "right", "baseline": "middle"},
   "encoding": {"x": {"datum": 40.03}, "y": {"datum": 0.51}, "text": {"value": "O 2"}}},
  {"data": {"values": [{}]}, "mark": {"type": "text", "fontSize": 16, "fontStyle": "italic", "align": "left", "baseline": "middle"},
   "encoding": {"x": {"datum": 40.03}, "y": {"datum": 0.51}, "text": {"value": "p"}}},
  {"data": {"values": [{}]}, "mark": {"type": "text", "fontSize": 16, "align": "right", "baseline": "middle"},
   "encoding": {"x": {"datum": 45.01}, "y": {"datum": 0.36}, "text": {"value": "V 3"}}},
  {"data": {"values": [{}]}, "mark": {"type": "text", "fontSize": 16, "fontStyle": "italic", "align": "left", "baseline": "middle"},
   "encoding": {"x": {"datum": 45.01}, "y": {"datum": 0.36}, "text": {"value": "d"}}},
  {"data": {"values": [{}]}, "mark": {"type": "rect", "fill": "transparent", "stroke": "black", "strokeWidth": 1.5},
   "encoding": {"x": {"datum": 36}, "x2": {"datum": 47.1}, "y": {"datum": 0}, "y2": {"datum": 1}}}
 ]},
 {"layer": [
  {"data": {"name": "cBars"}, "mark": {"type": "rect", "color": "#f7a541", "stroke": "#fbd3a0", "strokeWidth": 0.6},
   "encoding": {
    "x": {"field": "lo", "type": "quantitative", "scale": {"domain": [400, 680], "range": [1063, 1176], "nice": false},
          "axis": {"orient": "bottom", "offset": -354, "values": [400, 500, 600], "title": "Intensity (arb. units)", "titleFontSize": 16, "labelFontSize": 15, "tickSize": -4, "labelPadding": 12, "titlePadding": 2}},
    "x2": {"field": "hi"},
    "y": {"field": "n", "type": "quantitative", "scale": {"domain": [0, 1], "range": [177, 33], "nice": false},
          "axis": {"orient": "left", "offset": -1063, "values": [0.32, 0.64, 0.96], "labels": false, "title": "Counts", "titleFontSize": 17, "tickSize": -4, "titlePadding": 6}},
    "y2": {"datum": 0}
   }},
  {"data": {"name": "cFit"}, "mark": {"type": "line", "color": "#555555", "strokeWidth": 1, "strokeDash": [3, 2], "interpolate": "monotone"},
   "encoding": {"x": {"field": "x", "type": "quantitative"}, "y": {"field": "g1", "type": "quantitative"}}},
  {"data": {"name": "cFit"}, "mark": {"type": "line", "color": "#555555", "strokeWidth": 1, "strokeDash": [3, 2], "interpolate": "monotone"},
   "encoding": {"x": {"field": "x", "type": "quantitative"}, "y": {"field": "g2", "type": "quantitative"}}},
  {"data": {"name": "cFit"}, "mark": {"type": "line", "color": "#6a3fa5", "strokeWidth": 2.5, "interpolate": "monotone"},
   "encoding": {"x": {"field": "x", "type": "quantitative"}, "y": {"field": "fit", "type": "quantitative"}}},
  {"data": {"name": "cArrows"}, "mark": {"type": "line", "color": "black", "strokeWidth": 1.2, "interpolate": "monotone"},
   "encoding": {"x": {"field": "x", "type": "quantitative"}, "y": {"field": "y", "type": "quantitative"}, "detail": {"field": "a"}}},
  {"data": {"values": [{}]}, "mark": {"type": "point", "shape": "triangle-up", "filled": true, "color": "black", "size": 70, "angle": 125, "opacity": 1},
   "encoding": {"x": {"datum": 463}, "y": {"datum": 0.535}}},
  {"data": {"values": [{}]}, "mark": {"type": "point", "shape": "triangle-up", "filled": true, "color": "black", "size": 70, "angle": 220, "opacity": 1},
   "encoding": {"x": {"datum": 628}, "y": {"datum": 0.36}}},
  {"data": {"values": [{}]}, "mark": {"type": "text", "fontSize": 13, "align": "center", "baseline": "middle"},
   "encoding": {"x": {"datum": 525}, "y": {"datum": 0.905}, "text": {"value": "monoclinic-like"}}},
  {"data": {"values": [{}]}, "mark": {"type": "text", "fontSize": 13, "align": "center", "baseline": "middle"},
   "encoding": {"x": {"datum": 628}, "y": {"datum": 0.697}, "text": {"value": "rutile"}}},
  {"data": {"values": [{}]}, "mark": {"type": "text", "fontSize": 16, "align": "center", "baseline": "middle"},
   "encoding": {"x": {"datum": 558}, "y": {"datum": 1.075}, "text": {"value": "LEEM 59 °C"}}},
  {"data": {"values": [{}]}, "mark": {"type": "text", "fontSize": 22, "align": "center", "baseline": "middle"},
   "encoding": {"x": {"datum": 350}, "y": {"datum": 1.1}, "text": {"value": "(c)"}}},
  {"data": {"values": [{}]}, "mark": {"type": "rect", "fill": "transparent", "stroke": "black", "strokeWidth": 1.5},
   "encoding": {"x": {"datum": 400}, "x2": {"datum": 680}, "y": {"datum": 0}, "y2": {"datum": 1}}}
 ]},
 {"layer": [
  {"data": {"name": "dLines"}, "mark": {"type": "line", "strokeWidth": 2.5, "interpolate": "monotone"},
   "encoding": {
    "x": {"field": "e", "type": "quantitative", "scale": {"domain": [43.7, 46], "range": [1233, 1343], "nice": false},
          "axis": {"orient": "bottom", "offset": -354, "values": [44, 45, 46], "format": "d", "title": "Energy (eV)", "titleFontSize": 16, "labelFontSize": 15, "tickSize": -4, "labelPadding": 12, "titlePadding": 2}},
    "y": {"field": "v", "type": "quantitative", "scale": {"domain": [0, 1], "range": [177, 33], "nice": false},
          "axis": {"orient": "left", "offset": -1233, "values": [0.33, 0.66], "labels": false, "title": "Intensity (arb. units)", "titleFontSize": 16, "tickSize": -4, "titlePadding": 4}},
    "color": {"field": "s", "type": "nominal", "scale": {"domain": ["insulating", "metallic"], "range": ["#2166b0", "#ee3b32"]},
              "legend": {"orient": "none", "legendX": 1247, "legendY": 45, "title": null, "labelFontSize": 16, "symbolType": "stroke", "symbolStrokeWidth": 2.5, "symbolSize": 600, "labelOffset": 4, "rowPadding": 2}}
   }},
  {"data": {"values": [{}]}, "mark": {"type": "text", "fontSize": 22, "align": "center", "baseline": "middle"},
   "encoding": {"x": {"datum": 43.0}, "y": {"datum": 1.08}, "text": {"value": "(d)"}}},
  {"data": {"values": [{}]}, "mark": {"type": "rect", "fill": "transparent", "stroke": "black", "strokeWidth": 1.5},
   "encoding": {"x": {"datum": 43.7}, "x2": {"datum": 46}, "y": {"datum": 0}, "y2": {"datum": 1}}}
 ]},
 {"layer": [
  {"data": {"name": "eLines"}, "mark": {"type": "line", "strokeWidth": 2, "interpolate": "monotone"},
   "encoding": {
    "x": {"field": "e", "type": "quantitative", "scale": {"domain": [43.7, 46], "range": [1076, 1333], "nice": false},
          "axis": {"orient": "bottom", "offset": -88, "values": [44, 45, 46], "format": "d", "title": "Kinetic energy (eV)", "titleFontSize": 16, "labelFontSize": 15, "tickSize": -4, "labelPadding": 12, "titlePadding": 2}},
    "y": {"field": "v", "type": "quantitative", "scale": {"domain": [0, 1], "range": [443, 253], "nice": false},
          "axis": {"orient": "left", "offset": -1076, "values": [0.2, 0.4, 0.6, 0.8], "labels": false, "title": "Intensity (arb. units)", "titleFontSize": 16, "tickSize": -4, "titlePadding": 9}},
    "color": {"field": "s", "type": "nominal", "scale": {"domain": ["58 °C PES", "89% metallic fit", "50% metallic"], "range": ["#6a5acd", "#3aa335", "#b5602e"]},
              "legend": {"orient": "none", "legendX": 1090, "legendY": 374, "title": null, "labelFontSize": 16, "symbolStrokeWidth": 2.2, "labelOffset": 6, "rowPadding": 2}}
   }},
  {"data": {"name": "ePoints"}, "mark": {"type": "line", "color": "#6a5acd", "strokeWidth": 1.5},
   "encoding": {"x": {"field": "e", "type": "quantitative"}, "y": {"field": "v", "type": "quantitative"}}},
  {"data": {"name": "ePoints"}, "mark": {"type": "point", "filled": false, "fill": "white", "strokeWidth": 2, "opacity": 1},
   "encoding": {
    "x": {"field": "e", "type": "quantitative"},
    "y": {"field": "v", "type": "quantitative"},
    "color": {"field": "s", "type": "nominal"},
    "shape": {"field": "s", "type": "nominal", "scale": {"domain": ["58 °C PES", "89% metallic fit", "50% metallic"], "range": ["diamond", "stroke", "stroke"]},
              "legend": {"orient": "none", "legendX": 1090, "legendY": 374, "title": null, "labelFontSize": 16, "symbolStrokeWidth": 2.2, "labelOffset": 6, "rowPadding": 2}},
    "size": {"field": "s", "type": "nominal", "scale": {"domain": ["58 °C PES", "89% metallic fit", "50% metallic"], "range": [120, 580, 580]},
              "legend": {"orient": "none", "legendX": 1090, "legendY": 374, "title": null, "labelFontSize": 16, "symbolStrokeWidth": 2.2, "labelOffset": 6, "rowPadding": 2}}
   }},
  {"data": {"values": [{}]}, "mark": {"type": "text", "fontSize": 15, "align": "center", "baseline": "top"},
   "encoding": {"x": {"datum": 46}, "y": {"datum": -0.042}, "text": {"value": "46"}}},
  {"data": {"values": [{}]}, "mark": {"type": "text", "fontSize": 22, "align": "center", "baseline": "middle"},
   "encoding": {"x": {"datum": 43.44}, "y": {"datum": 1.063}, "text": {"value": "(e)"}}},
  {"data": {"values": [{}]}, "mark": {"type": "rect", "fill": "transparent", "stroke": "black", "strokeWidth": 1.5},
   "encoding": {"x": {"datum": 43.7}, "x2": {"datum": 46}, "y": {"datum": 0}, "y2": {"datum": 1}}}
 ]},
 {"data": {"values": [{}]}, "mark": {"type": "point", "opacity": 0},
  "encoding": {
   "x": {"datum": 44, "type": "quantitative", "scale": {"domain": [43.7, 46], "range": [1076, 1333], "nice": false},
         "axis": {"orient": "bottom", "offset": -88, "values": [44.5, 45.5], "format": ".1f", "domain": false, "title": null, "labelFontSize": 15, "tickSize": -4, "labelPadding": 12}},
   "y": {"datum": 0.5, "type": "quantitative", "scale": {"domain": [0, 1], "range": [443, 253], "nice": false},
         "axis": null}
  }},
 {"data": {"values": [{}]}, "mark": {"type": "point", "opacity": 0},
  "encoding": {
   "x": {"datum": 44, "type": "quantitative", "scale": {"domain": [43.7, 46], "range": [1076, 1333], "nice": false},
         "axis": {"orient": "bottom", "offset": -88, "values": [43.8,43.9,44.1,44.2,44.3,44.4,44.6,44.7,44.8,44.9,45.1,45.2,45.3,45.4,45.6,45.7,45.8,45.9], "labels": false, "domain": false, "title": null, "tickSize": -2.5}},
   "y": {"datum": 0.5, "type": "quantitative", "scale": {"domain": [0, 1], "range": [443, 253], "nice": false},
         "axis": null}
  }}
],
"resolve": {"scale": {"x": "independent", "y": "independent", "color": "independent", "shape": "independent", "fill": "independent", "stroke": "independent", "size": "independent"}}
}
